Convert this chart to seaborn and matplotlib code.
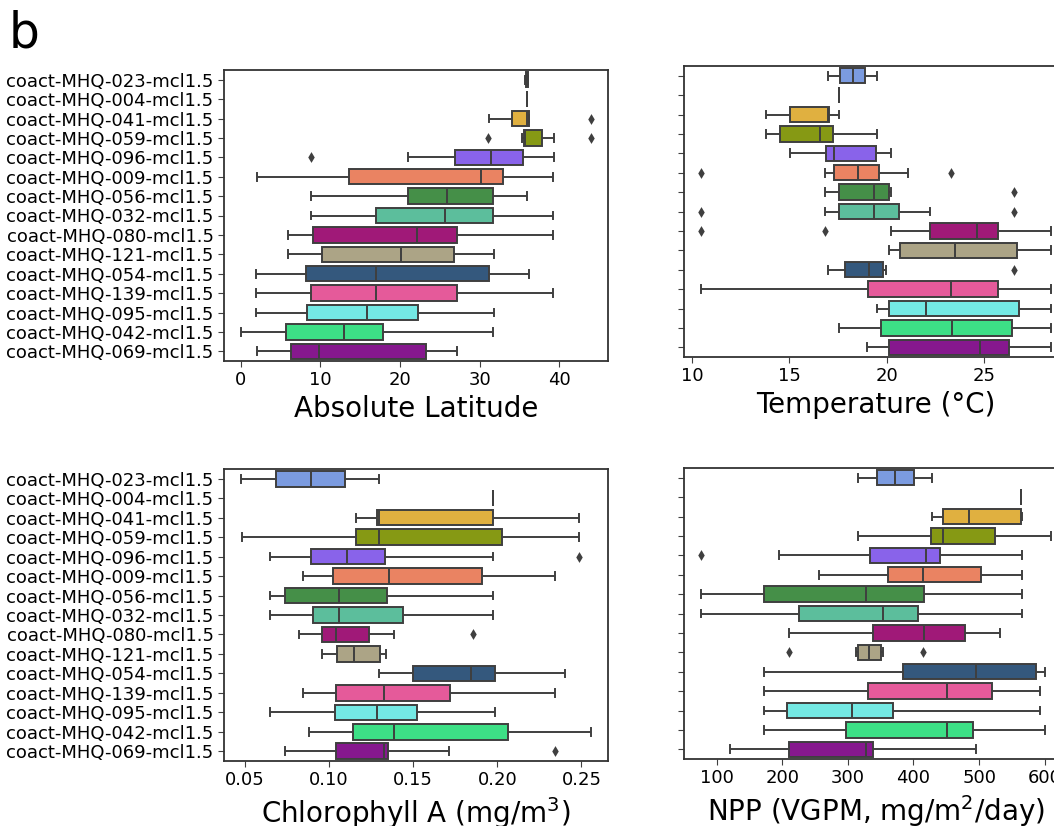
import numpy as np
import pandas as pd
import matplotlib
matplotlib.use("Agg")
import matplotlib.pyplot as plt
import seaborn as sns

# Cluster names, top to bottom
clusters = [
    "coact-MHQ-023-mcl1.5", "coact-MHQ-004-mcl1.5", "coact-MHQ-041-mcl1.5",
    "coact-MHQ-059-mcl1.5", "coact-MHQ-096-mcl1.5", "coact-MHQ-009-mcl1.5",
    "coact-MHQ-056-mcl1.5", "coact-MHQ-032-mcl1.5", "coact-MHQ-080-mcl1.5",
    "coact-MHQ-121-mcl1.5", "coact-MHQ-054-mcl1.5", "coact-MHQ-139-mcl1.5",
    "coact-MHQ-095-mcl1.5", "coact-MHQ-042-mcl1.5", "coact-MHQ-069-mcl1.5",
]
cluster_colors = [
    "#7b9be0", "#9a9a9a", "#e0b040", "#869914", "#8963ea", "#ea8362",
    "#458f48", "#5cbe9c", "#a01978", "#aca486", "#34587d", "#e55a9a",
    "#74e9e4", "#3de086", "#86188e",
]

# Absolute latitude: whisker low, Q1, median, Q3, whisker high
lat_lo  = [35.7, 35.9, 31.1, 35.3, 21.0,  2.0,  8.8,  8.8,  6.0,  6.0,  1.9,  1.9,  1.9,  0.1,  2.0]
lat_q1  = [35.75, 35.9, 34.1, 35.6, 26.9, 13.6, 21.0, 17.0,  9.1, 10.2,  8.2,  8.8,  8.3,  5.7,  6.3]
lat_med = [35.9, 35.9, 35.9, 35.7, 31.4, 30.2, 25.9, 25.6, 22.1, 20.1, 17.0, 17.0, 15.8, 13.0,  9.8]
lat_q3  = [36.05, 35.9, 36.2, 37.8, 35.4, 32.9, 31.7, 31.6, 27.2, 26.8, 31.2, 27.2, 22.2, 17.8, 23.3]
lat_hi  = [36.1, 35.9, 36.2, 39.3, 39.3, 39.2, 35.9, 39.2, 39.2, 31.8, 36.2, 39.2, 31.8, 31.6, 27.2]
lat_out_cluster = ["coact-MHQ-041-mcl1.5", "coact-MHQ-059-mcl1.5",
                   "coact-MHQ-059-mcl1.5", "coact-MHQ-096-mcl1.5"]
lat_out_value = [43.9, 31.0, 43.9, 8.8]

# Temperature (deg C)
temp_lo  = [16.98, 17.53, 13.81, 13.81, 15.01, 16.82, 16.82, 16.82, 20.20, 20.11, 16.98, 10.46, 19.48, 17.54, 19.00]
temp_q1  = [17.61, 17.53, 15.01, 14.51, 16.86, 17.27, 17.53, 17.53, 22.21, 20.68, 17.85, 19.03, 20.11, 19.67, 20.11]
temp_med = [18.28, 17.53, 16.96, 16.55, 17.29, 18.49, 19.34, 19.34, 24.62, 23.49, 19.10, 23.29, 22.00, 23.36, 24.76]
temp_q3  = [18.88, 17.53, 17.03, 17.25, 19.46, 19.60, 20.11, 20.63, 25.72, 26.68, 19.81, 25.72, 26.75, 26.39, 26.25]
temp_hi  = [19.51, 17.53, 17.54, 19.51, 20.20, 21.06, 20.20, 22.22, 28.39, 28.39, 19.94, 28.39, 28.39, 28.39, 28.39]
temp_out_cluster = ["coact-MHQ-009-mcl1.5", "coact-MHQ-009-mcl1.5",
                    "coact-MHQ-056-mcl1.5", "coact-MHQ-032-mcl1.5",
                    "coact-MHQ-032-mcl1.5", "coact-MHQ-080-mcl1.5",
                    "coact-MHQ-080-mcl1.5", "coact-MHQ-054-mcl1.5"]
temp_out_value = [10.46, 23.30, 26.54, 10.46, 26.54, 10.46, 16.82, 26.54]

# Chlorophyll A (mg/m^3)
chl_lo  = [0.0479, 0.1975, 0.1160, 0.0481, 0.0650, 0.0847, 0.0650, 0.0650, 0.0824, 0.0958, 0.1298, 0.0847, 0.0650, 0.0878, 0.0735]
chl_q1  = [0.0683, 0.1975, 0.1287, 0.1160, 0.0894, 0.1026, 0.0735, 0.0904, 0.0960, 0.1047, 0.1496, 0.1040, 0.1035, 0.1141, 0.1040]
chl_med = [0.0892, 0.1975, 0.1298, 0.1298, 0.1106, 0.1355, 0.1059, 0.1059, 0.1040, 0.1146, 0.1845, 0.1329, 0.1287, 0.1388, 0.1329]
chl_q3  = [0.1096, 0.1975, 0.1975, 0.2029, 0.1334, 0.1911, 0.1345, 0.1439, 0.1240, 0.1305, 0.1984, 0.1719, 0.1524, 0.2066, 0.1352]
chl_hi  = [0.1298, 0.1975, 0.2486, 0.2486, 0.1975, 0.2341, 0.1975, 0.1975, 0.1388, 0.1340, 0.2402, 0.2341, 0.1989, 0.2554, 0.1712]
chl_out_cluster = ["coact-MHQ-096-mcl1.5", "coact-MHQ-080-mcl1.5",
                   "coact-MHQ-069-mcl1.5"]
chl_out_value = [0.2486, 0.1857, 0.2341]

# Net primary production (VGPM, mg/m^2/day)
npp_lo  = [316, 564, 429, 316, 195.5, 256.5,  77,  77, 211, 312, 172, 172, 172, 172, 120]
npp_q1  = [344, 564, 445.5, 426, 334, 360.7, 172, 226, 339, 316, 383.5, 330, 206.7, 297, 211]
npp_med = [372, 564, 485, 445, 418.6, 415, 327, 353, 416, 333, 496, 450.6, 306.8, 450.6, 327]
npp_q3  = [401, 564, 564, 525, 441, 503, 416, 407, 479, 350.5, 586, 519, 369, 490, 339]
npp_hi  = [429, 564, 565, 609.6, 565, 565, 565, 565, 532, 354, 600, 593, 593, 600, 495]
npp_out_cluster = ["coact-MHQ-096-mcl1.5", "coact-MHQ-121-mcl1.5",
                   "coact-MHQ-121-mcl1.5"]
npp_out_value = [77, 210, 415]

LINE = "#3f3f3f"


def summary_frame(lo, q1, med, q3, hi):
    rows = []
    for name, *vals in zip(clusters, lo, q1, med, q3, hi):
        rows += [(name, v) for v in vals]
    return pd.DataFrame(rows, columns=["cluster", "value"])


def draw_panel(ax, stats, out_cluster, out_value, xlabel, show_labels):
    df = summary_frame(*stats)
    sns.boxplot(data=df, x="value", y="cluster", hue="cluster", order=clusters,
                hue_order=clusters, palette=dict(zip(clusters, cluster_colors)),
                whis=np.inf, width=0.8, saturation=1, linecolor=LINE,
                linewidth=1.4, legend=False, ax=ax)
    outliers = pd.DataFrame({"cluster": out_cluster, "value": out_value})
    sns.stripplot(data=outliers, x="value", y="cluster", order=clusters,
                  jitter=False, marker="d", color=LINE, size=5.5, ax=ax)
    ax.set_xlabel(xlabel, fontsize=20)
    ax.set_ylabel("")
    ax.tick_params(labelsize=13, length=4, color=LINE)
    if not show_labels:
        ax.tick_params(axis="y", labelleft=False)
    for sp in ax.spines.values():
        sp.set_color("#333333")
        sp.set_linewidth(1.3)


fig = plt.figure(figsize=(10.54, 8.26), dpi=100)
W, H = 1054, 826
ax_tl = fig.add_axes([224 / W, 1 - 361 / H, 384 / W, 291 / H])
ax_tr = fig.add_axes([683.5 / W, 1 - 357 / H, 384.5 / W, 291 / H])
ax_bl = fig.add_axes([224 / W, 1 - 761 / H, 384 / W, 292 / H])
ax_br = fig.add_axes([684 / W, 1 - 759 / H, 384.5 / W, 291 / H])

draw_panel(ax_tl, (lat_lo, lat_q1, lat_med, lat_q3, lat_hi),
           lat_out_cluster, lat_out_value, "Absolute Latitude", True)
draw_panel(ax_tr, (temp_lo, temp_q1, temp_med, temp_q3, temp_hi),
           temp_out_cluster, temp_out_value, "Temperature (°C)", False)
draw_panel(ax_bl, (chl_lo, chl_q1, chl_med, chl_q3, chl_hi),
           chl_out_cluster, chl_out_value, "Chlorophyll A (mg/m$^3$)", True)
draw_panel(ax_br, (npp_lo, npp_q1, npp_med, npp_q3, npp_hi),
           npp_out_cluster, npp_out_value, "NPP (VGPM, mg/m$^2$/day)", False)

fig.text(9 / W, 1 - 47 / H, "b", fontsize=35, va="baseline", ha="left")

fig.savefig("out.png", dpi=100)
